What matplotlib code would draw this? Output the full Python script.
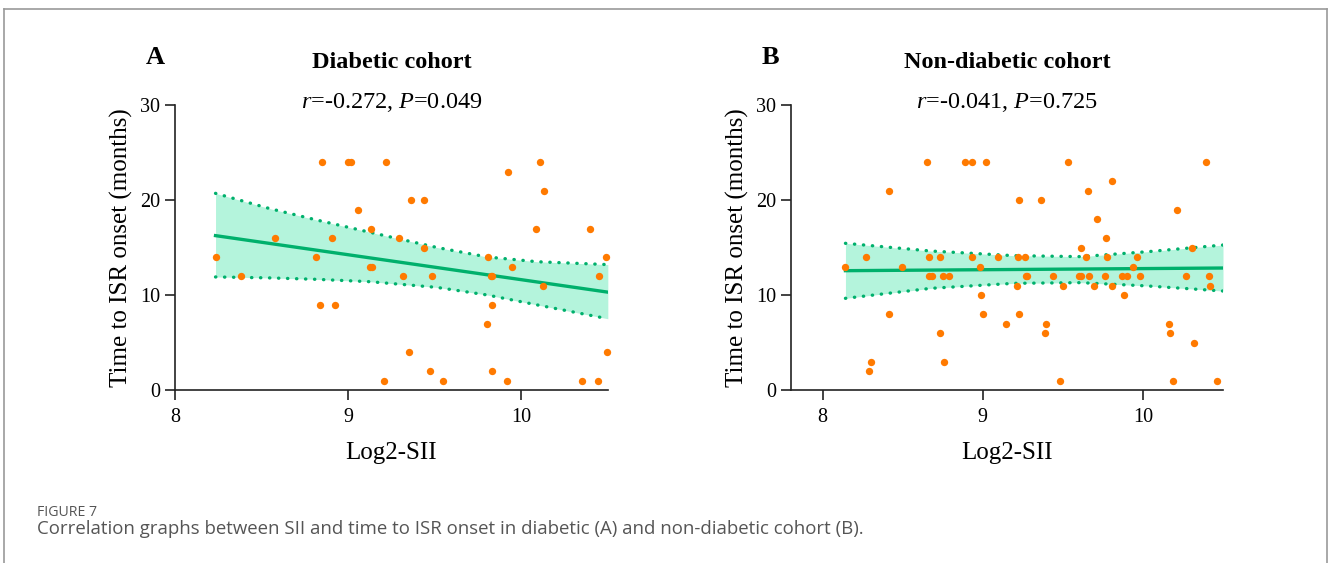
import numpy as np
import matplotlib.pyplot as plt
from matplotlib.lines import Line2D

# Diabetic cohort (panel A): Log2-SII vs time to ISR onset (months)
diab_x = [8.234, 8.382, 8.575, 8.814, 8.838, 8.846, 8.907, 8.923, 9.000, 9.016,
          9.056, 9.124, 9.139, 9.132, 9.207, 9.219, 9.296, 9.319, 9.352, 9.362,
          9.435, 9.439, 9.472, 9.486, 9.549, 9.803, 9.808, 9.822, 9.830, 9.830,
          9.828, 9.915, 9.924, 9.944, 10.085, 10.110, 10.124, 10.129, 10.350,
          10.394, 10.443, 10.447, 10.487, 10.495]
diab_y = [14, 12, 16, 14, 9, 24, 16, 9, 24, 24,
          19, 13, 13, 17, 1, 24, 16, 12, 4, 20,
          20, 15, 2, 12, 1, 7, 14, 12, 12, 9,
          2, 1, 23, 13, 17, 24, 11, 21, 1,
          17, 1, 12, 14, 4]

# regression line and 95% band of panel A
diab_band_x = [8.234, 8.546, 8.817, 9.126, 9.513, 9.803, 10.093, 10.499]
diab_band_hi = [20.7, 19.1, 17.9, 16.6, 15.0, 14.0, 13.5, 13.2]
diab_band_lo = [11.9, 11.8, 11.65, 11.4, 10.8, 10.0, 8.95, 7.5]
diab_fit_x = [8.234, 10.499]
diab_fit_y = [16.25, 10.3]

# Non-diabetic cohort (panel B)
nond_x = [8.142, 8.273, 8.292, 8.303, 8.413, 8.415, 8.496, 8.653, 8.665, 8.665,
          8.680, 8.732, 8.732, 8.751, 8.789, 8.759, 8.890, 8.932, 8.930, 8.982,
          8.986, 9.000, 9.022, 9.093, 9.143, 9.216, 9.218, 9.226, 9.228, 9.261,
          9.267, 9.274, 9.364, 9.387, 9.393, 9.441, 9.482, 9.501, 9.534, 9.601,
          9.611, 9.611, 9.647, 9.657, 9.666, 9.695, 9.716, 9.766, 9.770, 9.773,
          9.804, 9.806, 9.872, 9.901, 9.880, 9.937, 9.960, 9.981, 10.160, 10.172,
          10.187, 10.212, 10.268, 10.308, 10.318, 10.395, 10.412, 10.418, 10.464]
nond_y = [13, 14, 2, 3, 21, 8, 13, 24, 14, 12,
          12, 14, 6, 12, 12, 3, 24, 24, 14, 13,
          10, 8, 24, 14, 7, 11, 14, 20, 8, 14,
          12, 12, 20, 6, 7, 12, 1, 11, 24, 12,
          12, 15, 14, 21, 12, 11, 18, 12, 16, 14,
          22, 11, 12, 12, 10, 13, 14, 12, 7, 6,
          1, 19, 12, 15, 5, 24, 12, 11, 1]

nond_band_x = [8.142, 8.674, 9.195, 9.612, 10.029, 10.5]
nond_band_hi = [15.44, 14.63, 14.14, 14.04, 14.56, 15.26]
nond_band_lo = [9.65, 10.70, 11.23, 11.30, 10.95, 10.42]
nond_fit_x = [8.142, 10.5]
nond_fit_y = [12.56, 12.84]

panels = [
    ('A', 'Diabetic cohort', r'$\it{r}$=-0.272, $\it{P}$=0.049', diab_x, diab_y,
     diab_band_x, diab_band_lo, diab_band_hi, diab_fit_x, diab_fit_y, (8, 10.5)),
    ('B', 'Non-diabetic cohort', r'$\it{r}$=-0.041, $\it{P}$=0.725', nond_x, nond_y,
     nond_band_x, nond_band_lo, nond_band_hi, nond_fit_x, nond_fit_y, (7.8, 10.5)),
]

plt.rcParams['font.family'] = ['Liberation Serif', 'DejaVu Serif']
plt.rcParams['mathtext.fontset'] = 'custom'
plt.rcParams['mathtext.it'] = 'Liberation Serif:italic'
plt.rcParams['mathtext.rm'] = 'Liberation Serif'

dot_color = '#FF7A00'
line_color = '#00B06C'
fill_color = '#B4F4DC'

W, H = 1328, 563
fig = plt.figure(figsize=(W / 100, H / 100), dpi=100)

ax_boxes = [(175, 608), (790.7, 1223)]
top_px, bot_px = 105, 390

for (letter, title, stat, xs, ys, bx, blo, bhi, fx, fy, xlim), (l_px, r_px) in zip(panels, ax_boxes):
    ax = fig.add_axes([l_px / W, 1 - bot_px / H, (r_px - l_px) / W, (bot_px - top_px) / H])

    ax.fill_between(bx, blo, bhi, color=fill_color, lw=0, zorder=1)
    for edge in (bhi, blo):
        ax.plot(bx, edge, color=line_color, lw=2.4, ls=(0, (0.1, 2.6)),
                dash_capstyle='round', zorder=2)
    ax.plot(fx, fy, color=line_color, lw=2.4, zorder=3)
    ax.scatter(xs, ys, s=28, color=dot_color, lw=0, zorder=4, clip_on=False)

    ax.set_xlim(*xlim)
    ax.set_ylim(0, 30)
    ax.set_xticks([8, 9, 10])
    ax.set_yticks([0, 10, 20, 30])
    for sp in ['top', 'right']:
        ax.spines[sp].set_visible(False)
    for sp in ['left', 'bottom']:
        ax.spines[sp].set_linewidth(1.2)
        ax.spines[sp].set_color('#222222')
    ax.tick_params(length=7, width=1.2, color='#222222', labelsize=14.5)
    ax.tick_params(axis='x', pad=6)

    cx = (l_px + r_px) / 2 / W
    ax.set_xlabel('Log2-SII', fontsize=18, labelpad=11)
    ax.set_ylabel('Time to ISR onset (months)', fontsize=18, labelpad=5)
    fig.text(cx, 1 - 62 / H, title, ha='center', va='center', fontsize=17.5, fontweight='bold')
    fig.text(cx, 1 - 103 / H, stat, ha='center', va='center', fontsize=17.5)
    fig.text((l_px - 20) / W, 1 - 58 / H, letter, ha='center', va='center', fontsize=19, fontweight='bold')

# frame around the figure panel
for xy in [([4, 1327], [9, 9]), ([4, 4], [9, 563]), ([1327, 1327], [9, 563])]:
    fig.add_artist(Line2D([v / W for v in xy[0]], [1 - v / H for v in xy[1]],
                          color='#9a9a9a', lw=1.2))

fig.text(37 / W, 1 - 513 / H, 'FIGURE 7', fontsize=10.2, color='#555555',
         family='Open Sans', va='center')
fig.text(37 / W, 1 - 529 / H,
         'Correlation graphs between SII and time to ISR onset in diabetic (A) and non-diabetic cohort (B).',
         fontsize=13.45, color='#555555', family='Open Sans', va='center')

fig.savefig('out.png', dpi=100)
